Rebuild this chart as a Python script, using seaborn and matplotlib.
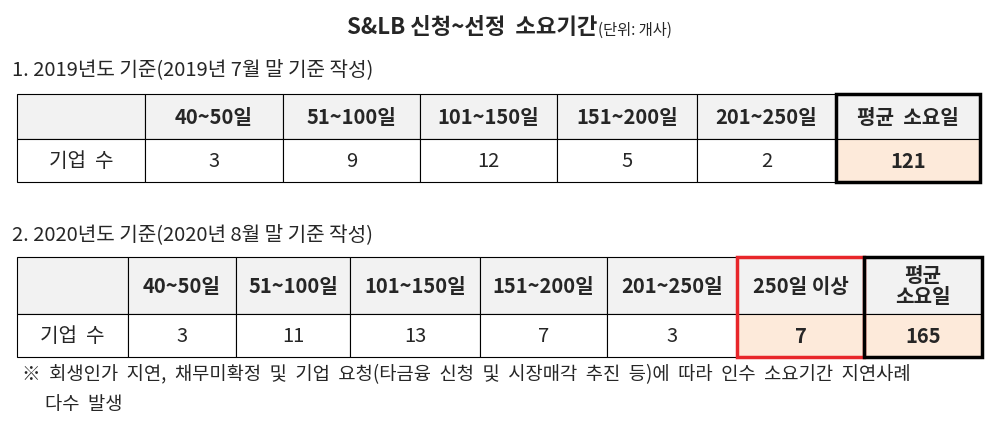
import matplotlib.pyplot as plt
import matplotlib.patches as mpatches
import seaborn as sns

sns.set_theme(style="white")
plt.rcParams['font.family'] = ['Noto Sans CJK KR', 'DejaVu Sans']

# table data
cats_2019 = ["40~50일", "51~100일", "101~150일", "151~200일", "201~250일", "평균  소요일"]
vals_2019 = [3, 9, 12, 5, 2, 121]
cats_2020 = ["40~50일", "51~100일", "101~150일", "151~200일", "201~250일", "250일 이상", "평균\n소요일"]
vals_2020 = [3, 11, 13, 7, 3, 7, 165]
row_label = "기업  수"

GREY = "#f2f2f2"
PEACH = "#fdeada"

fig = plt.figure(figsize=(10, 4.27), dpi=100)
ax = fig.add_axes([0, 0, 1, 1])
ax.set_xlim(0, 1000)
ax.set_ylim(427, 0)
ax.axis("off")


def draw_table(cols, y0, y1, y2, cats, vals, peach_idx, fs):
    labels = [""] + cats
    cells = [row_label] + [str(v) for v in vals]
    for i in range(len(cols) - 1):
        x0, x1 = cols[i], cols[i + 1]
        ax.add_patch(mpatches.Rectangle((x0, y0), x1 - x0, y1 - y0, fc=GREY, ec="black", lw=0.8))
        fc = PEACH if (i - 1) in peach_idx else "white"
        ax.add_patch(mpatches.Rectangle((x0, y1), x1 - x0, y2 - y1, fc=fc, ec="black", lw=0.8))
        xm = (x0 + x1) / 2
        ax.text(xm, (y0 + y1) / 2, labels[i], ha="center", va="center", fontsize=fs,
                fontweight="bold", linespacing=1.0)
        bold = (i - 1) in peach_idx
        ax.text(xm, (y1 + y2) / 2, cells[i], ha="center", va="center", fontsize=fs,
                fontweight="bold" if bold else "normal")


ax.text(597, 27, "S&LB 신청~선정  소요기간", ha="right", va="center", fontsize=16, fontweight="bold")
ax.text(598, 30, "(단위: 개사)", ha="left", va="center", fontsize=11)

ax.text(12, 70, "1. 2019년도 기준(2019년 7월 말 기준 작성)", ha="left", va="center", fontsize=14.5)
cols1 = [17, 145, 283, 420, 557, 697, 836, 980]
draw_table(cols1, 95, 140, 183, cats_2019, vals_2019, [5], 14.5)
ax.add_patch(mpatches.Rectangle((836, 95), 144, 88, fill=False, ec="black", lw=2.5))

ax.text(12, 235, "2. 2020년도 기준(2020년 8월 말 기준 작성)", ha="left", va="center", fontsize=14.5)
cols2 = [17, 128, 236, 350, 480, 607, 737, 864, 982]
draw_table(cols2, 258, 315, 358, cats_2020, vals_2020, [5, 6], 14.5)
ax.add_patch(mpatches.Rectangle((737, 258), 127, 100, fill=False, ec="#e8262a", lw=2.5))
ax.add_patch(mpatches.Rectangle((864, 258), 118, 100, fill=False, ec="black", lw=2.5))

ax.text(22, 375, "※  회생인가  지연,  채무미확정  및  기업  요청(타금융  신청  및  시장매각  추진  등)에  따라  인수  소요기간  지연사례",
        ha="left", va="center", fontsize=13.5)
ax.text(45, 405, "다수  발생", ha="left", va="center", fontsize=13.5)

fig.savefig("out.png", dpi=100)
